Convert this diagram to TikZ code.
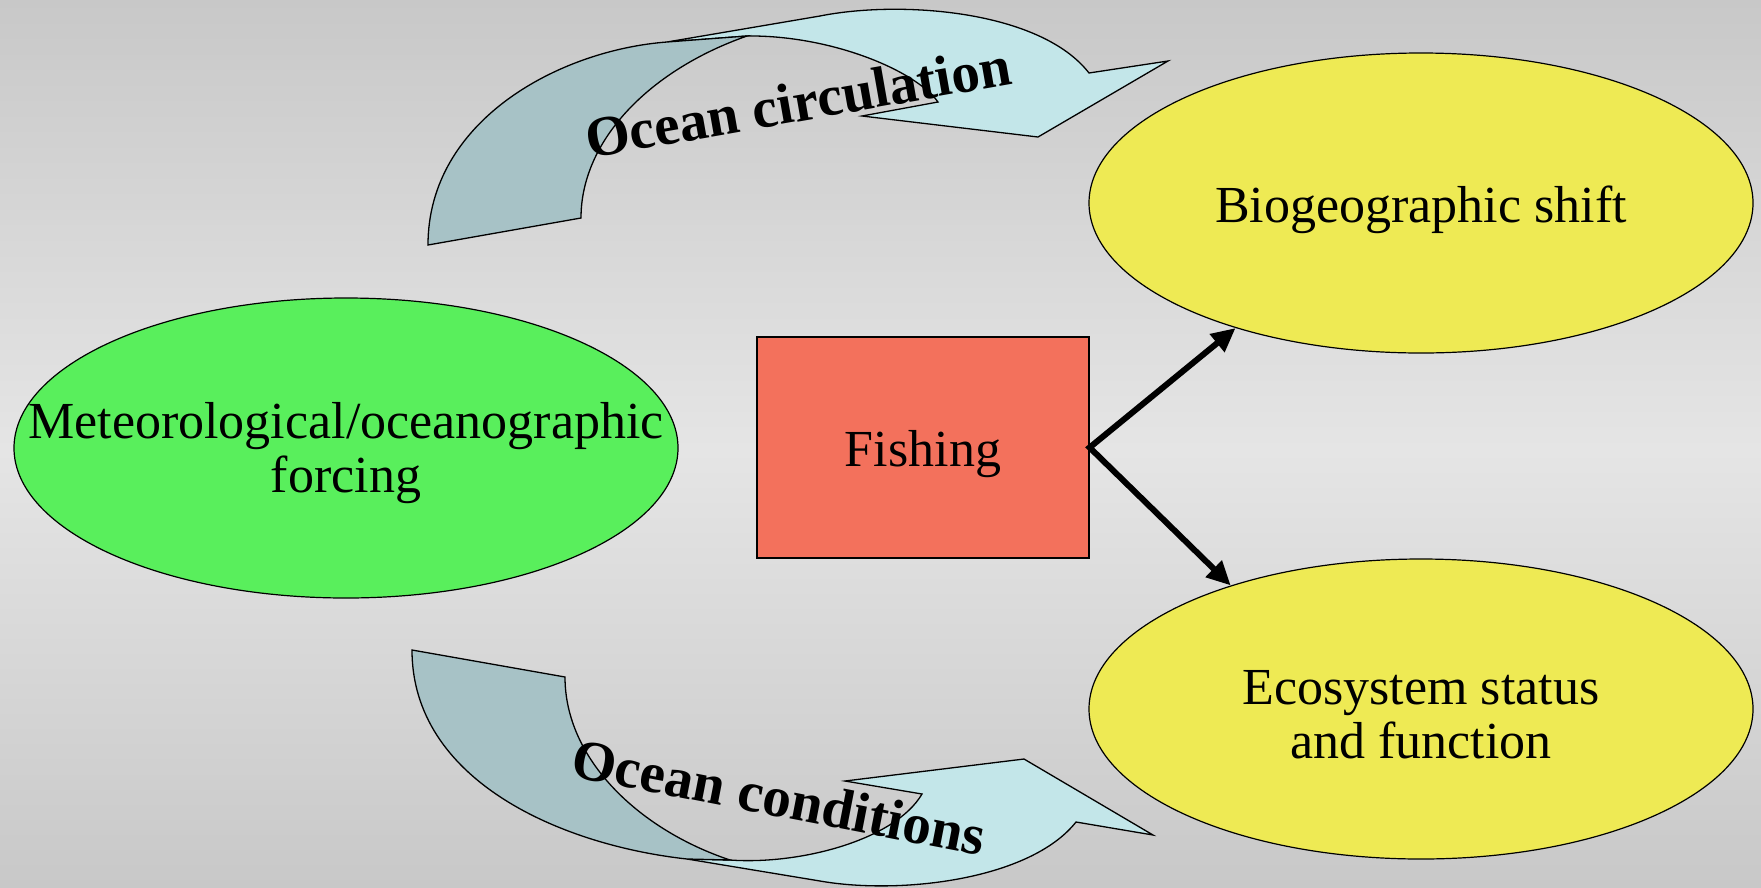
\documentclass[tikz,border=0pt]{standalone}
\usepackage{fontspec}
\setmainfont{Liberation Serif}
\usetikzlibrary{arrows.meta,shapes.geometric}

\definecolor{bgrim}{RGB}{200,200,200}
\definecolor{bgmid}{RGB}{229,229,229}
\definecolor{forcinggreen}{RGB}{89,239,92}
\definecolor{fishred}{RGB}{243,113,92}
\definecolor{shiftyellow}{RGB}{238,234,84}
\definecolor{ribbonback}{RGB}{167,194,198}
\definecolor{ribbonfront}{RGB}{195,230,233}

\tikzset{
	bubble/.style={ellipse, draw=black, line width=1.2pt, minimum width=664pt, minimum height=300pt, inner xsep=-100pt, inner ysep=0pt, align=center, text height=51pt, font=\fontsize{52}{54}\selectfont},
	twoline/.style={text height=100pt},
	pressure/.style={rectangle, draw=black, line width=1.2pt, fill=fishred, minimum width=332pt, minimum height=221pt, text height=49pt, font=\fontsize{52}{54}\selectfont},
	ribbon/.style={draw=black, line width=1.3pt, line join=miter},
	impact/.style={{Triangle[length=24pt,width=22pt]}-{Triangle[length=24pt,width=22pt]}, line width=6pt},
	flowlabel/.style={inner sep=0pt, font=\fontsize{57}{60}\selectfont\bfseries}
}

\begin{document}
\begin{tikzpicture}[x=1pt,y=-1pt]
			%%%%% START %%%%%
			
			\shade[top color=bgrim, bottom color=bgmid] (0,0) rectangle (1761,450);
			\shade[top color=bgmid, bottom color=bgrim] (0,450) rectangle (1761,887);
			\useasboundingbox (0,0) rectangle (1761,887);
			
			% upper ribbon arrow
			\draw[ribbon, fill=ribbonfront] (667,42) -- (820,16) .. controls (900,0) and (1040,10) .. (1089,73) -- (1168,61) -- (1038,137) -- (862,116) -- (938,102) .. controls (915,70) and (830,35) .. (747,36) -- cycle;
			\draw[ribbon, fill=ribbonback] (428,245) .. controls (428,120) and (560,50) .. (667,42) -- (747,36) .. controls (650,70) and (581,140) .. (581,218) -- cycle;
			\node[flowlabel, rotate=10] (circlabel) at (798,102) {Ocean circulation};
			
			% lower ribbon arrow
			\draw[ribbon, fill=ribbonfront] (687,859) -- (820,881) .. controls (900,895) and (1030,880) .. (1076,822) -- (1153,835) -- (1024,759) -- (845,781) -- (922,794) .. controls (895,840) and (800,865) .. (730,860) -- cycle;
			\draw[ribbon, fill=ribbonback] (412,650) .. controls (412,780) and (560,845) .. (687,859) -- (730,860) .. controls (640,830) and (565,760) .. (565,677) -- cycle;
			\node[flowlabel, rotate=-11] (condlabel) at (779,797) {Ocean conditions};
			
			\node[bubble, twoline, fill=forcinggreen] (forcing) at (346,448) {Meteorological/oceanographic\\forcing};
			\node[bubble, fill=shiftyellow] (shift) at (1421,203) {Biogeographic shift};
			\node[bubble, twoline, fill=shiftyellow] (ecosys) at (1421,709) {Ecosystem status\\and function};
			
			\node[pressure] (fishing) at (923,447.5) {Fishing};
			\draw[impact] (shift.214) -- (fishing.east) -- (ecosys.147);
			
			%%%%% END %%%%%
\end{tikzpicture}
\end{document}
